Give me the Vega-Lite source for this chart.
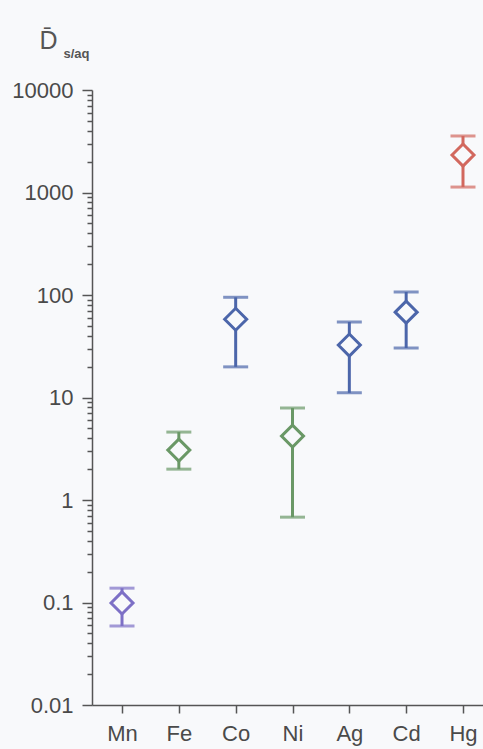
{
  "$schema": "https://vega.github.io/schema/vega-lite/v6.json",
  "autosize": "none",
  "width": 391,
  "height": 615,
  "padding": {"left": 92, "top": 90, "right": 0, "bottom": 44},
  "background": "#f8f9fb",
  "config": {
    "view": {"stroke": null},
    "axis": {"grid": false, "labelFont": "Liberation Sans", "titleFont": "Liberation Sans"}
  },
  "data": {
    "values": [
      {"el": "Mn", "D": 0.099, "lo": 0.059, "hi": 0.138},
      {"el": "Fe", "D": 3.07, "lo": 2.0, "hi": 4.6},
      {"el": "Co", "D": 58, "lo": 19.9, "hi": 95},
      {"el": "Ni", "D": 4.2, "lo": 0.68, "hi": 7.9},
      {"el": "Ag", "D": 32.5, "lo": 11.1, "hi": 54.5},
      {"el": "Cd", "D": 68, "lo": 30.4, "hi": 107},
      {"el": "Hg", "D": 2320, "lo": 1130, "hi": 3560}
    ]
  },
  "encoding": {
    "x": {
      "field": "el",
      "type": "nominal",
      "sort": null,
      "scale": {"type": "point", "padding": 0.44, "align": 0.6},
      "axis": {
        "title": "s/aq",
        "titleX": -29,
        "titleY": -648,
        "titleAlign": "left",
        "titleBaseline": "alphabetic",
        "titleFontSize": 13,
        "titleFontWeight": "bold",
        "titleColor": "#555555",
        "labelAngle": 0,
        "labelFontSize": 22,
        "labelColor": "#4a4a4a",
        "labelPadding": 10,
        "tickSize": 8,
        "tickWidth": 1.5,
        "tickColor": "#555555",
        "domainColor": "#555555",
        "domainWidth": 1.5
      }
    },
    "color": {
      "field": "el",
      "type": "nominal",
      "scale": {
        "domain": ["Mn", "Fe", "Co", "Ni", "Ag", "Cd", "Hg"],
        "range": ["#7d70c6", "#6a9866", "#4c66aa", "#6a9866", "#4c66aa", "#4c66aa", "#d2685e"]
      },
      "legend": null
    }
  },
  "layer": [
    {
      "mark": {"type": "rule", "strokeWidth": 3},
      "encoding": {
        "y": {
          "field": "lo",
          "type": "quantitative",
          "scale": {"type": "log", "domain": [0.01, 10000]},
          "axis": {
            "values": [0.01, 0.02, 0.03, 0.04, 0.05, 0.06, 0.07, 0.08, 0.09,
                       0.1, 0.2, 0.3, 0.4, 0.5, 0.6, 0.7, 0.8, 0.9,
                       1, 2, 3, 4, 5, 6, 7, 8, 9,
                       10, 20, 30, 40, 50, 60, 70, 80, 90,
                       100, 200, 300, 400, 500, 600, 700, 800, 900,
                       1000, 2000, 3000, 4000, 5000, 6000, 7000, 8000, 9000, 10000],
            "labelExpr": "indexof([0.01, 0.1, 1, 10, 100, 1000, 10000], datum.value) >= 0 ? (datum.value >= 1 ? format(datum.value, 'd') : format(datum.value, '.2~f')) : ''",
            "labelOverlap": false,
            "labelBound": false,
            "labelFontSize": 22,
            "labelColor": "#4a4a4a",
            "labelPadding": 9,
            "tickSize": {"condition": {"test": "indexof([0.01, 0.1, 1, 10, 100, 1000, 10000], datum.value) >= 0", "value": 10}, "value": 5},
            "tickWidth": 1.5,
            "tickColor": "#555555",
            "domainColor": "#555555",
            "domainWidth": 1.5,
            "title": "D̄",
            "titleAngle": 0,
            "titleFontSize": 25,
            "titleFontWeight": "normal",
            "titleColor": "#555555",
            "titleX": -44,
            "titleY": -50,
            "titleAlign": "center",
            "titleBaseline": "middle"
          }
        },
        "y2": {"field": "hi"}
      }
    },
    {
      "mark": {"type": "tick", "size": 25, "thickness": 3},
      "encoding": {"y": {"field": "lo", "type": "quantitative"}}
    },
    {
      "mark": {"type": "tick", "size": 25, "thickness": 3},
      "encoding": {"y": {"field": "hi", "type": "quantitative"}}
    },
    {
      "mark": {"type": "point", "shape": "diamond", "size": 484, "strokeWidth": 3, "filled": false, "fill": "#f8f9fb", "fillOpacity": 1, "opacity": 1},
      "encoding": {"y": {"field": "D", "type": "quantitative"}}
    }
  ]
}
